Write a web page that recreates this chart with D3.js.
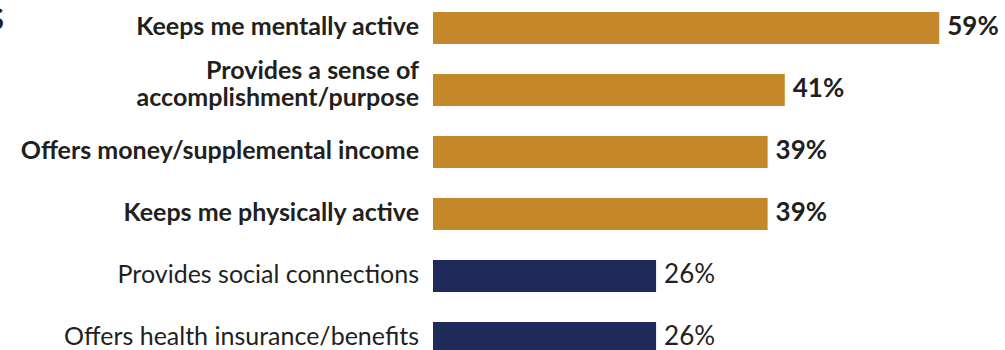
<!DOCTYPE html>
<html>
<head>
<meta charset="utf-8">
<script src="https://cdn.jsdelivr.net/npm/d3@7"></script>
<style>
  html, body { margin: 0; padding: 0; background: #fff; }
  svg { display: block; }
  text { font-family: Lato, "Open Sans", sans-serif; fill: #231f20; }
</style>
</head>
<body>
<svg id="chart" width="1005" height="350"></svg>
<script>
// Reasons for working, share of respondents
const categories = [
  "Keeps me mentally active",
  "Provides a sense of accomplishment/purpose",
  "Offers money/supplemental income",
  "Keeps me physically active",
  "Provides social connections",
  "Offers health insurance/benefits"
];
// Label lines as set on the left of each bar
const labelLines = [
  ["Keeps me mentally active"],
  ["Provides a sense of", "accomplishment/purpose"],
  ["Offers money/supplemental income"],
  ["Keeps me physically active"],
  ["Provides social connections"],
  ["Offers health insurance/benefits"]
];
const values = [59, 41, 39, 39, 26, 26];
// Top four reasons are highlighted
const highlighted = [true, true, true, true, false, false];

const gold = "#c4882a";
const navy = "#1f2a5b";

const svg = d3.select("#chart");

const x = d3.scaleLinear().domain([0, 100]).range([433, 1291]);
const y = d3.scaleBand()
  .domain(categories)
  .range([12, 354])
  .paddingInner(30 / 62)
  .paddingOuter(0);

const rows = categories.map((c, i) => ({
  name: c, lines: labelLines[i], value: values[i], hi: highlighted[i]
}));

// Cut-off heading glyph at the left edge
svg.append("text")
  .attr("x", 4).attr("y", 30)
  .attr("text-anchor", "end")
  .style("font-size", "31px")
  .style("font-weight", 700)
  .text("S");

// Bars
svg.selectAll("rect.bar").data(rows).enter().append("rect")
  .attr("class", "bar")
  .attr("x", x(0))
  .attr("y", d => y(d.name))
  .attr("width", d => x(d.value) - x(0))
  .attr("height", y.bandwidth())
  .attr("fill", d => d.hi ? gold : navy);

// Category labels (two-line labels sit slightly above the bar centre)
const labels = svg.selectAll("text.cat").data(rows).enter().append("text")
  .attr("class", "cat")
  .attr("text-anchor", "end")
  .style("font-size", "25px")
  .style("font-weight", d => d.hi ? 700 : 400);

labels.each(function(d) {
  const t = d3.select(this);
  const n = d.lines.length;
  const cy = y(d.name) + y.bandwidth() / 2 - (n > 1 ? 5 : 0);
  const lh = 27;
  d.lines.forEach((ln, j) => {
    t.append("tspan")
      .attr("x", 419)
      .attr("y", cy + (j - (n - 1) / 2) * lh)
      .attr("dy", "0.28em")
      .text(ln);
  });
});

// Value labels
svg.selectAll("text.val").data(rows).enter().append("text")
  .attr("class", "val")
  .attr("x", d => x(d.value) + 8)
  .attr("y", d => y(d.name) + y.bandwidth() / 2)
  .attr("dy", "0.28em")
  .style("font-size", "26px")
  .style("font-weight", d => d.hi ? 700 : 400)
  .text(d => d.value + "%");
</script>
</body>
</html>
